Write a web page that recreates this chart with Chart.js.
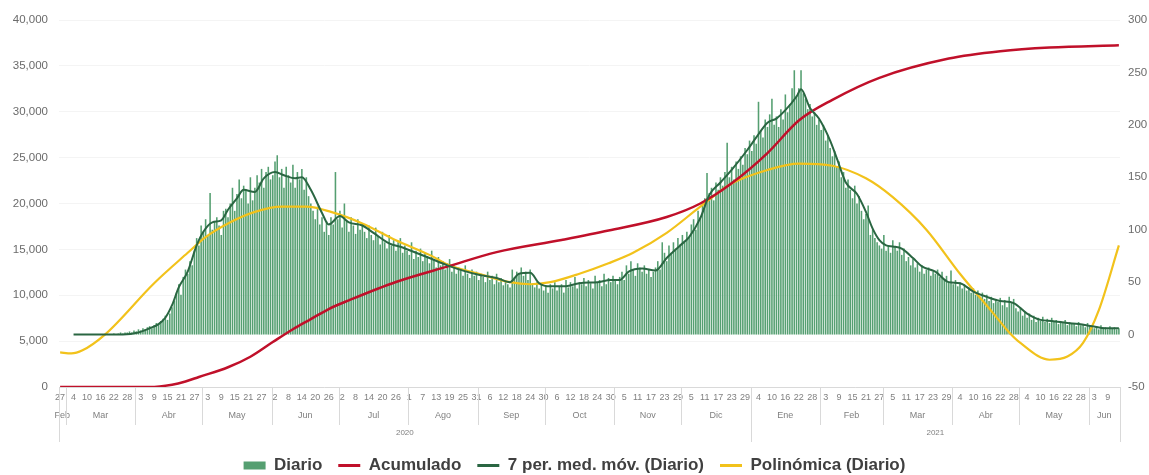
<!DOCTYPE html>
<html lang="es">
<head>
<meta charset="utf-8">
<title>Diario, acumulado y tendencias</title>
<script src="https://cdn.jsdelivr.net/npm/chart.js@4.4.1/dist/chart.umd.min.js"></script>
<style>
  html, body { margin: 0; padding: 0; background: #fff; }
  #wrap { width: 1149px; height: 475px; }
</style>
</head>
<body>
<div id="wrap"><canvas id="chart" width="1149" height="475"></canvas></div>
<script>
// Serie diaria, un valor por día desde el 27 feb 2020 (eje derecho)
const diario = [
  0, 0, 0, 0, 0, 0, 0, 0, 0, 0,
  0, 0, 0, 0, 0, 0, 0, 0, 0, 0,
  0, 0, 0, 0, 1, 0, 1, 2, 1, 2,
  2, 3, 2, 4, 3, 5, 4, 6, 5, 7,
  8, 6, 9, 11, 10, 13, 15, 18, 14, 20,
  26, 32, 40, 48, 38, 55, 62, 58, 70, 66,
  80, 92, 85, 104, 98, 110, 95, 135, 100, 108,
  112, 104, 95, 118, 120, 112, 125, 140, 118, 134,
  148, 130, 142, 138, 125, 150, 128, 140, 152, 145,
  158, 140, 155, 160, 148, 152, 165, 171, 150, 158,
  140, 160, 152, 145, 162, 140, 155, 148, 158, 138,
  150, 132, 125, 118, 110, 122, 105, 112, 98, 108,
  95, 112, 105, 155, 110, 118, 102, 125, 108, 98,
  112, 104, 96, 110, 100, 106, 98, 92, 104, 95,
  90, 102, 94, 86, 98, 88, 82, 95, 85, 90,
  80, 88, 92, 78, 85, 80, 76, 88, 72, 80,
  74, 82, 70, 78, 75, 68, 80, 72, 64, 74,
  66, 70, 62, 68, 72, 60, 66, 58, 64, 62,
  56, 66, 58, 54, 62, 56, 60, 52, 58, 55,
  50, 60, 52, 56, 48, 58, 50, 54, 47, 52,
  48, 45, 62, 55, 60, 58, 64, 56, 60, 52,
  62, 48, 45, 50, 44, 48, 42, 46, 40, 48,
  44, 50, 42, 46, 48, 40, 52, 45, 50, 46,
  55, 44, 50, 48, 54, 46, 52, 49, 44, 56,
  50, 52, 46, 58, 48, 54, 50, 56, 52, 48,
  55, 60, 52, 66, 58, 70, 62, 56, 68, 64,
  60, 66, 58, 62, 55, 60, 64, 70, 62, 88,
  78, 70, 85, 78, 88, 82, 92, 86, 95, 88,
  98, 92, 105, 110, 100, 118, 112, 125, 130, 154,
  135, 140, 128, 145, 138, 150, 142, 155, 183, 150,
  160, 148, 165, 158, 170, 162, 178, 172, 185, 175,
  190, 182, 222, 195, 188, 205, 198, 210, 225, 200,
  208, 198, 215, 205, 229, 212, 220, 235, 252, 228,
  235, 252, 230, 225, 215, 220, 208, 212, 200, 205,
  195, 200, 185, 190, 178, 170, 175, 160, 165, 150,
  155, 140, 148, 138, 130, 142, 125, 132, 118, 110,
  115, 123, 95, 100, 92, 88, 85, 82, 95, 80,
  85, 78, 90, 84, 80, 88, 76, 82, 70, 74,
  66, 72, 64, 68, 60, 66, 58, 62, 64, 56,
  60, 58, 62, 55, 60, 52, 56, 50, 61, 48,
  52, 46, 50, 44, 48, 42, 45, 40, 44, 38,
  42, 36, 40, 34, 38, 32, 36, 30, 34, 31,
  35, 28, 33, 26, 36, 30, 34, 25, 22, 26,
  18, 22, 16, 20, 14, 18, 12, 16, 13, 17,
  12, 15, 11, 16, 12, 14, 10, 13, 11, 14,
  9, 12, 10, 11, 8, 12, 9, 10, 7, 11,
  8, 9, 6, 8, 5, 9, 6, 7, 5, 8,
  6, 7, 5, 6
];

const acumDias = [0, 40, 50, 56, 62, 75, 85, 95, 104, 112, 120, 129, 150, 174, 195, 224, 245, 271, 286, 300, 316, 330, 345, 366, 397, 420, 442, 473];
const acumValores = [0, 0, 250, 600, 1090, 2150, 3300, 4900, 6300, 7400, 8500, 9450, 11450, 13200, 14700, 16020, 17050, 18530, 20000, 22200, 25500, 29050, 31300, 33700, 35800, 36600, 37000, 37250];

// Media móvil de 7 periodos (eje derecho)
const mediaDias = [6, 28, 35, 40, 44, 47, 50, 53, 57, 61, 64, 68, 72, 75, 79, 82, 87, 91, 96, 100, 105, 108, 112, 117, 120, 125, 129, 135, 140, 147, 153, 159, 165, 173, 180, 187, 195, 201, 205, 210, 214, 219, 225, 232, 240, 246, 250, 254, 260, 266, 271, 277, 281, 286, 290, 295, 300, 307, 311, 316, 320, 324, 329, 331, 335, 339, 344, 347, 351, 356, 360, 363, 366, 369, 372, 376, 381, 385, 391, 397, 402, 408, 414, 420, 426, 432, 438, 443, 450, 455, 461, 467, 473];
const mediaValores = [0, 0, 2, 6, 10, 16, 28, 45, 60, 85, 98, 107, 109, 119, 130, 138, 136, 149, 155, 152, 149, 150, 138, 116, 105, 113, 107, 104, 97, 87, 83, 78, 73, 66, 61, 57, 54, 50, 58, 59, 49, 46, 46, 49, 50, 52, 52, 60, 63, 61, 73, 85, 93, 111, 133, 145, 157, 176, 188, 202, 206, 214, 227, 234, 216, 206, 185, 168, 145, 134, 117, 101, 90, 85, 84, 82, 73, 65, 60, 50, 49, 41, 36, 32, 30, 20, 14, 13, 11, 10, 8, 6, 6];

// Tendencia polinómica (eje derecho)
const poliDias = [0, 5, 10, 20, 42, 57, 65, 75, 87, 99, 110, 121, 135, 150, 165, 174, 187, 201, 210, 219, 232, 245, 256, 271, 286, 300, 316, 330, 345, 360, 372, 387, 402, 417, 424, 429, 442, 450, 457, 464, 473];
const poliValores = [-17, -18, -15, 0, 49, 78, 93, 106, 117, 122, 122, 117, 106, 90, 76, 66, 58, 50, 48, 50, 58, 68, 78, 97, 122, 144, 157, 163, 161, 149, 131, 100, 58, 20, 2, -8, -24, -21, -8, 23, 85];

const meses = ['Ene', 'Feb', 'Mar', 'Abr', 'May', 'Jun', 'Jul', 'Ago', 'Sep', 'Oct', 'Nov', 'Dic'];
const ticksIzq = { min: 0, max: 40000, paso: 5000 };
const ticksDer = { min: -50, max: 300, paso: 50 };

const inicioSerie = Date.UTC(2020, 1, 27);
const fechas = diario.map((_, i) => new Date(inicioSerie + i * 86400000));
const etiquetas = fechas.map((f) => f.toISOString().slice(0, 10));

function puntos(dias, valores) {
  return dias.map((d, k) => ({ x: etiquetas[d], y: valores[k] }));
}

const FUENTE = '"Liberation Sans", Arial, sans-serif';
const GRIS = '#808080';

// Filas de meses y años bajo el eje, con separadores tipo Excel
const filasEje = {
  id: 'filasEje',
  afterDraw(chart) {
    const { ctx, chartArea, scales: { x } } = chart;
    const paso = x.getPixelForValue(1) - x.getPixelForValue(0);
    const yTop = chartArea.bottom + 1;
    const linea = (px, y2) => {
      const xs = Math.round(px) + 0.5;
      ctx.beginPath(); ctx.moveTo(xs, yTop); ctx.lineTo(xs, y2); ctx.stroke();
    };
    ctx.save();
    ctx.strokeStyle = '#d9d9d9';
    ctx.lineWidth = 1;
    ctx.fillStyle = GRIS;
    ctx.textAlign = 'center';
    ctx.textBaseline = 'middle';

    ctx.font = '9px ' + FUENTE;
    let ini = 0;
    for (let i = 1; i <= fechas.length; i++) {
      if (i === fechas.length || fechas[i].getUTCDate() === 1) {
        const xm = (x.getPixelForValue(ini) + x.getPixelForValue(i - 1)) / 2;
        ctx.fillText(meses[fechas[ini].getUTCMonth()], xm, 416);
        if (i < fechas.length) {
          const cambioAnio = fechas[i].getUTCMonth() === 0;
          linea(x.getPixelForValue(i) - paso / 2, cambioAnio ? 442 : 425);
        }
        ini = i;
      }
    }

    ctx.font = '8px ' + FUENTE;
    ini = 0;
    for (let i = 1; i <= fechas.length; i++) {
      if (i === fechas.length || fechas[i].getUTCFullYear() !== fechas[ini].getUTCFullYear()) {
        const xm = (x.getPixelForValue(ini) + x.getPixelForValue(i - 1)) / 2;
        ctx.fillText(String(fechas[ini].getUTCFullYear()), xm, 433);
        ini = i;
      }
    }
    linea(chartArea.left, 442);
    linea(chartArea.right, 442);
    ctx.restore();
  }
};

new Chart(document.getElementById('chart'), {
  type: 'bar',
  data: {
    labels: etiquetas,
    datasets: [
      {
        type: 'bar', label: 'Diario', data: diario, yAxisID: 'y1',
        backgroundColor: '#559f71', barPercentage: 0.7, categoryPercentage: 1,
        pointStyle: 'rect', order: 4,
      },
      {
        type: 'line', label: 'Acumulado', data: puntos(acumDias, acumValores), yAxisID: 'y',
        borderColor: '#c0102a', borderWidth: 2.5, pointRadius: 0, pointBorderWidth: 3,
        pointBorderColor: '#c0102a', pointStyle: 'line', cubicInterpolationMode: 'monotone', order: 2,
      },
      {
        type: 'line', label: '7 per. med. móv. (Diario)', data: puntos(mediaDias, mediaValores), yAxisID: 'y1',
        borderColor: '#2a6642', borderWidth: 2, pointRadius: 0, pointBorderWidth: 3,
        pointBorderColor: '#2a6642', pointStyle: 'line', cubicInterpolationMode: 'monotone', order: 1,
      },
      {
        type: 'line', label: 'Polinómica (Diario)', data: puntos(poliDias, poliValores), yAxisID: 'y1',
        borderColor: '#f2c21b', borderWidth: 2.2, pointRadius: 0, pointBorderWidth: 3,
        pointBorderColor: '#f2c21b', pointStyle: 'line', cubicInterpolationMode: 'monotone', order: 3,
      },
    ],
  },
  options: {
    responsive: false,
    devicePixelRatio: 1,
    animation: false,
    layout: { padding: { top: 20, left: 0, right: 0, bottom: 0 } },
    font: { family: FUENTE },
    plugins: {
      tooltip: { enabled: false },
      legend: {
        position: 'bottom',
        maxHeight: 34,
        labels: {
          usePointStyle: true, pointStyleWidth: 22, boxHeight: 8, padding: 16,
          color: '#404040', font: { family: FUENTE, size: 17, weight: 'bold' },
          sort: (a, b) => a.datasetIndex - b.datasetIndex,
        },
      },
    },
    scales: {
      x: {
        offset: true,
        grid: { display: false, drawTicks: false },
        border: { display: true, color: '#d9d9d9' },
        ticks: {
          autoSkip: false, maxRotation: 0, minRotation: 0, padding: 5,
          color: GRIS, font: { family: FUENTE, size: 9 },
          callback: (v, i) => (i % 6 === 0 ? String(fechas[i].getUTCDate()) : ''),
        },
        afterFit: (s) => { s.height = 54; },
      },
      y: {
        position: 'left', min: ticksIzq.min, max: ticksIzq.max,
        grid: { color: '#f4f4f4', drawTicks: false },
        border: { display: false },
        ticks: {
          stepSize: ticksIzq.paso, padding: 11, color: '#6b6b6b',
          font: { family: FUENTE, size: 11.5 },
          callback: (v) => v.toLocaleString('en-US'),
        },
        afterFit: (s) => { s.width = 59; },
      },
      y1: {
        position: 'right', min: ticksDer.min, max: ticksDer.max,
        grid: { display: false, drawTicks: false },
        border: { display: false },
        ticks: {
          stepSize: ticksDer.paso, padding: 8, color: '#6b6b6b',
          font: { family: FUENTE, size: 11.5 },
        },
        afterFit: (s) => { s.width = 29; },
      },
    },
  },
  plugins: [filasEje],
});
</script>
</body>
</html>
